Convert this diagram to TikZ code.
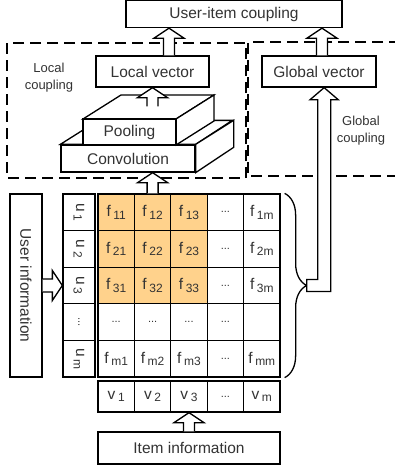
\documentclass[tikz,border=0pt]{standalone}
\usepackage{fontspec}
\usepackage{graphicx}
\setmainfont{Liberation Sans}
\usetikzlibrary{calc}
\usetikzlibrary{positioning}
\usetikzlibrary{decorations.pathreplacing}
\definecolor{cellorange}{RGB}{255,210,140}
\newcommand{\idx}[2]{#1\,\raisebox{-2.5pt}{\fontsize{12}{12}\selectfont #2}}
\newcommand{\celldots}{{\fontsize{11}{12}\selectfont ...}}
\tikzset{%
  myline/.style={draw=black, line width=1.3pt},
  mybox/.style={myline, inner sep=0pt, text=black!80, font=\fontsize{15.5}{18}\selectfont},
  mycell/.style={mybox, minimum width=36.4pt, minimum height=36.6pt},
  ucell/.style={mybox, minimum width=32pt, minimum height=36.6pt},
  vcell/.style={mybox, minimum width=36.4pt, minimum height=31pt},
  mydash/.style={myline, dash pattern=on 11pt off 6pt},
  myarrow/.style={myline, fill=white},
  mytext/.style={text=black!80, align=center, font=\fontsize{13}{17}\selectfont}
}
% hollow block arrow pointing up, from #1 to #2
\newcommand{\blockup}[2]{%
  \draw[myarrow] let \p1=(#1), \p2=(#2) in
    (\x1-5.5pt,\y1) -- (\x1-5.5pt,\y2-10pt) -- (\x1-15pt,\y2-10pt) -- (\x1,\y2)
    -- (\x1+15pt,\y2-10pt) -- (\x1+5.5pt,\y2-10pt) -- (\x1+5.5pt,\y1);}

\begin{document}
\begin{tikzpicture}[x=1pt, y=-1pt]
  \useasboundingbox (0,0) rectangle (394,469);

  % coupling regions
  \draw[mydash] (7,43) rectangle (246,178);
  \draw[mydash] (400,42) -- (248,42) -- (248,176) -- (400,176);
  \node[mytext] (lc) at (49,78) {Local\\coupling};
  \node[mytext] (gc) at (361,131) {Global\\coupling};

  \node[mybox, minimum width=216pt, minimum height=27pt] (top) at (234,14) {User-item coupling};
  \node[mybox, minimum width=113pt, minimum height=31pt] (lv) at (152.5,71.5) {Local vector};
  \node[mybox, minimum width=114pt, minimum height=31pt] (gv) at (319,71.5) {Global vector};

  % convolution and pooling blocks
  \node[mybox, fill=white, minimum width=134pt, minimum height=27pt] (conv) at (128,158.5) {Convolution};
  \draw[myarrow] (conv.north west) -- ++(38,-24) -- ++(134,0) -- (conv.north east) -- cycle;
  \draw[myarrow] (conv.north east) -- ++(38,-24) -- ++(0,27) -- (conv.south east) -- cycle;
  \coordinate (pbase) at (129.5,132);
  \draw[myarrow] ($(pbase)+(-46.5,-13)$) -- ++(38,-24) -- ++(93,0) -- ++(-38,24) -- cycle;
  \draw[myarrow] ($(pbase)+(46.5,-13)$) -- ++(38,-24) -- ++(0,26) -- ++(-38,24) -- cycle;
  \node[mybox, fill=white, minimum width=93pt, minimum height=26pt] (pool) at (pbase) {Pooling};

  % interaction matrix
  \foreach \r in {1,2,3}
    \foreach \c in {1,2,3}
      \node[mycell, fill=cellorange] (m-\r-\c) at ({36.4*\c+79.8},{36.6*\r+175.7}) {\idx{f}{\r\c}};
  \foreach \r/\rl in {1/1,2/2,3/3,5/m}
    \node[mycell] (m-\r-5) at ({36.4*5+79.8},{36.6*\r+175.7}) {\idx{f}{\rl m}};
  \foreach \c in {1,2,3}
    \node[mycell] (m-5-\c) at ({36.4*\c+79.8},{36.6*5+175.7}) {\idx{f}{m\c}};
  \foreach \r in {1,...,5}
    \node[mycell] (m-\r-4) at ({36.4*4+79.8},{36.6*\r+175.7}) {\celldots};
  \foreach \c in {1,2,3}
    \node[mycell] (m-4-\c) at ({36.4*\c+79.8},{36.6*4+175.7}) {\celldots};
  \node[mycell] (m-4-5) at ({36.4*5+79.8},{36.6*4+175.7}) {};

  % user and item vectors
  \foreach \r/\rl in {1/1,2/2,3/3,5/m}
    \node[ucell] (u-\r) at (79,{36.6*\r+175.7}) {\rotatebox{-90}{\idx{u}{\rl}}};
  \node[ucell] (u-4) at (79,{36.6*4+175.7}) {\rotatebox{-90}{\celldots}};
  \foreach \c/\cl in {1/1,2/2,3/3,5/m}
    \node[vcell] (v-\c) at ({36.4*\c+79.8},396.5) {\idx{v}{\cl}};
  \node[vcell] (v-4) at ({36.4*4+79.8},396.5) {\celldots};

  \node[mybox, minimum width=32pt, minimum height=183pt] (user) at (26,285.5) {\rotatebox{-90}{User information}};
  \node[mybox, minimum width=182pt, minimum height=32pt] (item) at (189,448) {Item information};

  % block arrows
  \blockup{item.north}{v-3.south}
  \blockup{m-1-2.north}{conv.south}
  \blockup{$(pool.north)+(23,-12)$}{lv.south}
  \blockup{$(lv.north)+(16.5,0)$}{top.south}
  \blockup{$(gv.north)+(3,0)$}{top.south}
  \draw[myarrow] let \p1=(user.east), \p2=(u-3.west) in
    (\x1,\y2+6.5pt) -- (\x2-10pt,\y2+6.5pt) -- (\x2-10pt,\y2+15pt) -- (\x2,\y2)
    -- (\x2-10pt,\y2-15pt) -- (\x2-10pt,\y2-6.5pt) -- (\x1,\y2-6.5pt);

  % brace and global coupling path
  \draw[myline, decorate, decoration={brace, amplitude=22pt, raise=4pt}]
    (m-1-5.north east) -- (m-5-5.south east);
  \coordinate (tip) at ($(m-1-5.north east)!0.5!(m-5-5.south east)+(26,0)$);
  \draw[myarrow] let \p1=(tip), \p2=(gv.south) in
    (\x1,\y1+6pt) -- (\x1+11pt,\y1+6pt) -- (\x1+11pt,\y2-12pt) -- (\x1+3.5pt,\y2-12pt)
    -- (\x1+17.5pt,\y2) -- (\x1+31.5pt,\y2-12pt) -- (\x1+24pt,\y2-12pt)
    -- (\x1+24pt,\y1-6pt) -- (\x1,\y1-6pt) -- cycle;
\end{tikzpicture}
\end{document}
